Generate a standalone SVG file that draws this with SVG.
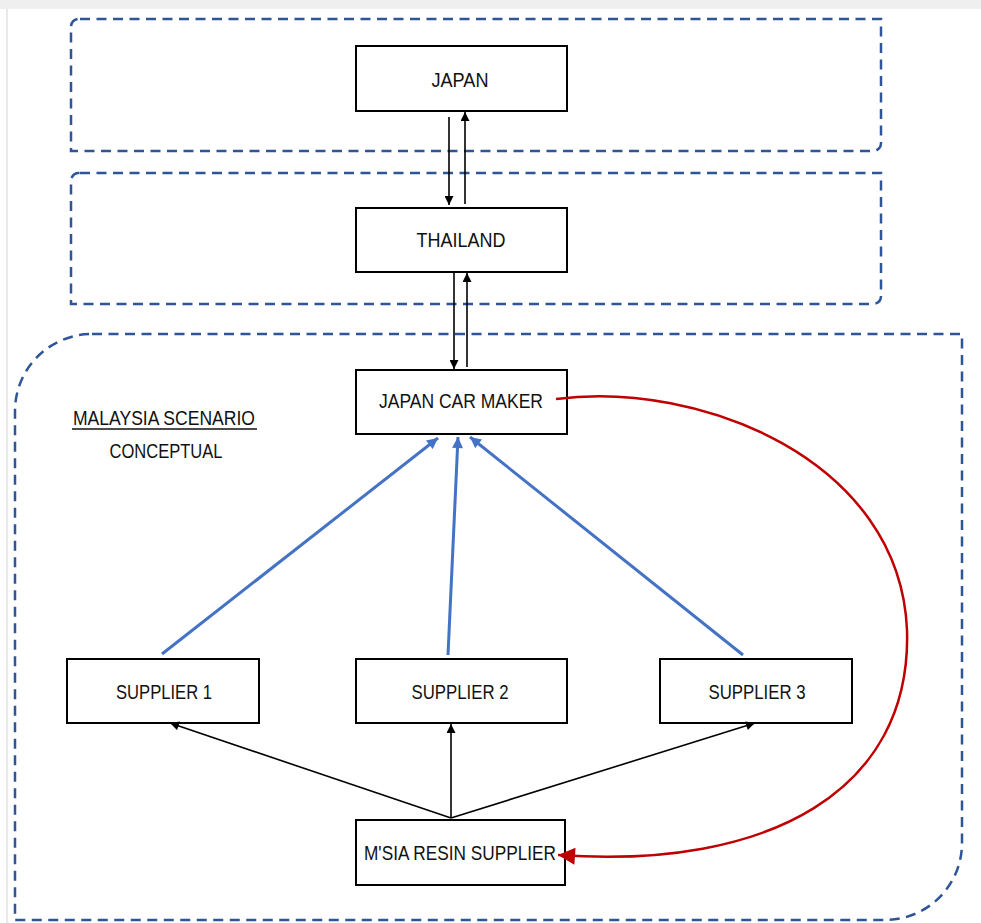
<svg xmlns="http://www.w3.org/2000/svg" width="981" height="923" viewBox="0 0 981 923">
<style>
.region{fill:none;stroke:#2E5597;stroke-width:2.5;stroke-dasharray:10 6.5}
.node rect{fill:#fff;stroke:#000;stroke-width:2}
.node text,.label{font-family:"Liberation Sans",Arial,sans-serif;font-size:21px;fill:#111;text-anchor:middle}
.blk{stroke:#000;stroke-width:1.6;fill:none}
.blue{stroke:#4472C4;stroke-width:3;fill:none}
.red{stroke:#C00000;stroke-width:2.5;fill:none}
</style>
<defs>
<marker id="ab" viewBox="0 0 10 10" refX="10" refY="5" markerWidth="11" markerHeight="9" markerUnits="userSpaceOnUse" orient="auto"><path d="M0,0 L10,5 L0,10 z" fill="#000"/></marker>
<marker id="abl" viewBox="0 0 10 10" refX="10" refY="5" markerWidth="12" markerHeight="11" markerUnits="userSpaceOnUse" orient="auto"><path d="M0,0 L10,5 L0,10 z" fill="#4472C4"/></marker>
<marker id="ar" viewBox="0 0 10 10" refX="10" refY="5" markerWidth="18" markerHeight="17" markerUnits="userSpaceOnUse" orient="auto"><path d="M0,0 L10,5 L0,10 z" fill="#C00000"/></marker>
</defs>
<rect x="0" y="0" width="981" height="923" fill="#fff"/>
<rect x="0" y="0" width="981" height="9" fill="#efefef"/>
<line x1="7" y1="9" x2="7" y2="923" stroke="#e2e2e2" stroke-width="1.5"/>
<g id="regions">
<path class="region" d="M80,19 H881 V143 A8,8 0 0 1 873,151 H71 V27 A8,8 0 0 1 80,19 Z"/>
<path class="region" d="M80,173 H881 V296 A8,8 0 0 1 873,304 H71 V181 A8,8 0 0 1 80,173 Z"/>
<path class="region" d="M92,334 H962 V843 A77,77 0 0 1 885,920 H15 V411 A77,77 0 0 1 92,334 Z"/>
</g>
<g id="title">
<text class="label" x="164" y="425" textLength="182" lengthAdjust="spacingAndGlyphs">MALAYSIA SCENARIO</text>
<line x1="72" y1="429" x2="257" y2="429" stroke="#111" stroke-width="1.3"/>
<text class="label" x="166" y="458" textLength="113" lengthAdjust="spacingAndGlyphs">CONCEPTUAL</text>
</g>
<g id="japan" class="node"><rect x="356" y="46" width="211" height="65"/><text x="460" y="87" textLength="57" lengthAdjust="spacingAndGlyphs">JAPAN</text></g>
<g id="thailand" class="node"><rect x="356" y="208" width="211" height="64"/><text x="461" y="247" textLength="89" lengthAdjust="spacingAndGlyphs">THAILAND</text></g>
<g id="carmaker" class="node"><rect x="356" y="370" width="211" height="64"/><text x="461" y="408" textLength="164" lengthAdjust="spacingAndGlyphs">JAPAN CAR MAKER</text></g>
<g id="supplier1" class="node"><rect x="67" y="659" width="192" height="64"/><text x="164" y="699" textLength="96" lengthAdjust="spacingAndGlyphs">SUPPLIER 1</text></g>
<g id="supplier2" class="node"><rect x="356" y="659" width="211" height="64"/><text x="460" y="699" textLength="97" lengthAdjust="spacingAndGlyphs">SUPPLIER 2</text></g>
<g id="supplier3" class="node"><rect x="660" y="659" width="192" height="64"/><text x="757" y="699" textLength="97" lengthAdjust="spacingAndGlyphs">SUPPLIER 3</text></g>
<g id="resin" class="node"><rect x="356" y="820" width="209" height="65"/><text x="460" y="860" textLength="192" lengthAdjust="spacingAndGlyphs">M'SIA RESIN SUPPLIER</text></g>
<g id="connectors">
<line class="blk" x1="449" y1="117" x2="449" y2="205" marker-end="url(#ab)"/>
<line class="blk" x1="465" y1="204" x2="465" y2="112" marker-end="url(#ab)"/>
<line class="blk" x1="454" y1="273" x2="454" y2="369" marker-end="url(#ab)"/>
<line class="blk" x1="467" y1="367" x2="467" y2="273" marker-end="url(#ab)"/>
<line class="blue" x1="162" y1="654" x2="438" y2="438" marker-end="url(#abl)"/>
<line class="blue" x1="448" y1="655" x2="458" y2="437" marker-end="url(#abl)"/>
<line class="blue" x1="743" y1="655" x2="470" y2="437" marker-end="url(#abl)"/>
<line class="blk" x1="451" y1="818" x2="170" y2="723" marker-end="url(#ab)"/>
<line class="blk" x1="451" y1="818" x2="451" y2="724" marker-end="url(#ab)"/>
<line class="blk" x1="451" y1="818" x2="755" y2="723" marker-end="url(#ab)"/>
<path class="red" d="M556,399 C700,380 900,460 907,630 C912,790 770,870 558,855" marker-end="url(#ar)"/>
</g>
</svg>
